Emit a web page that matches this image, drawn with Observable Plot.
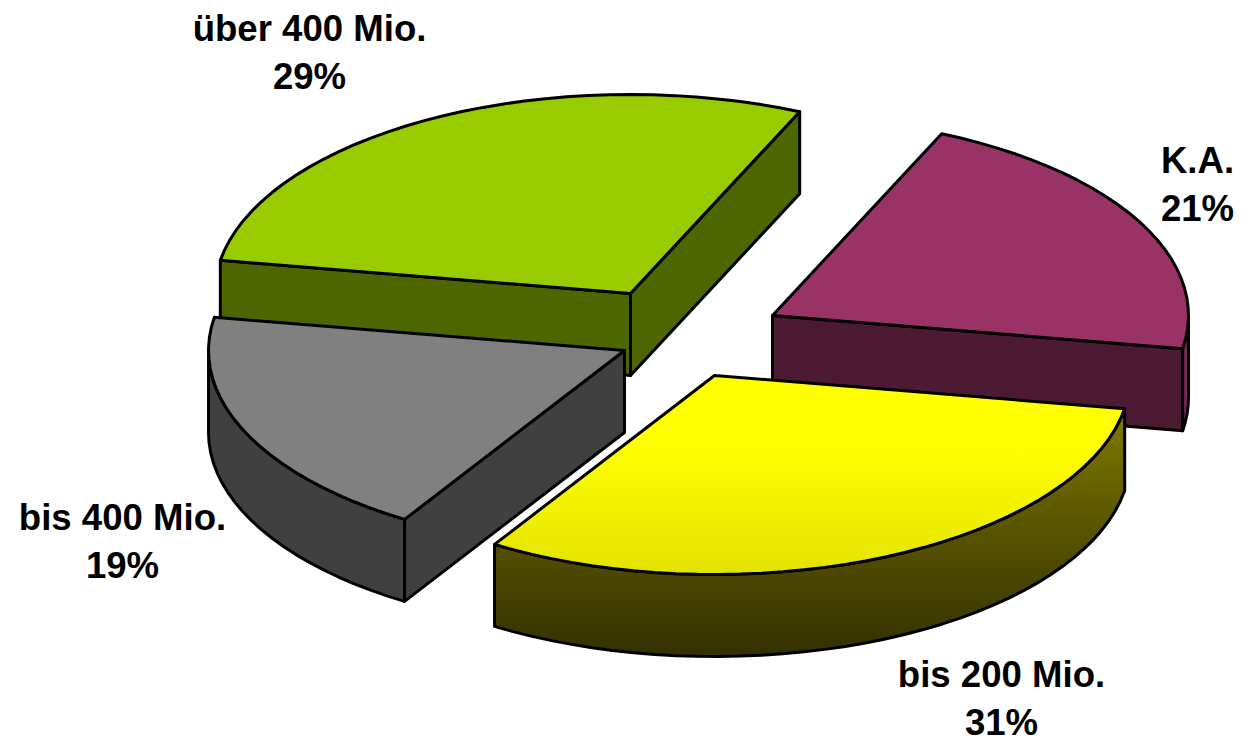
<!DOCTYPE html>
<html>
<head>
<meta charset="utf-8">
<script src="https://cdn.jsdelivr.net/npm/d3@7"></script>
<script src="https://cdn.jsdelivr.net/npm/@observablehq/plot@0.6"></script>
<style>
html,body{margin:0;padding:0;background:#fff;overflow:hidden}
svg{display:block}
</style>
</head>
<body>
<div id="chart"></div>
<script>
// Data
const categories = ["K.A.", "bis 200 Mio.", "bis 400 Mio.", "über 400 Mio."];
const shares = [21, 31.2, 18.8, 29];

// Appearance and layout of the exploded 3D pie
const topFills = ["#993366", "url(#yellowTop)", "#808080", "#99cc00"];
const wallFills = ["#4d1a33", "url(#yellowWall)", "#404040", "#4d6600"];
const rimFills = ["#7a2952", "url(#yellowWall)", "#404040", "#4d6600"];
const apexX = [772, 714, 624, 630];
const apexY = [315, 375, 350, 293];
const labelX = [1197, 1001, 122, 309];
const labelY = [138, 652, 495, 6];
const drawOrder = [3, 0, 2, 1];
const radiusX = 416, radiusY = 199, depth = 82, startAngle = 24;

// Slice angles (clockwise from the top of the ellipse)
const total = d3.sum(shares);
let acc = startAngle;
const angles = shares.map(v => { const a0 = acc; acc += v / total * 360; return [a0, acc]; });

const sinDeg = deg => Math.sin(deg * Math.PI / 180);
const rim = (i, deg, drop = 0) => {
  const r = deg * Math.PI / 180;
  return {x: apexX[i] + radiusX * Math.sin(r), y: apexY[i] - radiusY * Math.cos(r) + drop};
};
const arc = (i, a0, a1, drop = 0) => {
  const n = Math.max(2, Math.ceil((a1 - a0) / 3));
  return d3.range(n + 1).map(k => rim(i, a0 + (a1 - a0) * k / n, drop));
};
const apex = (i, drop = 0) => ({x: apexX[i], y: apexY[i] + drop});

const face = (points, fill) => Plot.line(points, {
  x: "x", y: "y", fill, stroke: "#000", strokeWidth: 3,
  strokeLinejoin: "round", curve: "linear-closed"
});

const sliceMarks = drawOrder.flatMap(i => {
  const [a0, a1] = angles[i];
  const marks = [];
  // cut faces, only those that face the viewer
  if (sinDeg(a0) < 0) marks.push(face([apex(i), rim(i, a0), rim(i, a0, depth), apex(i, depth)], wallFills[i]));
  if (sinDeg(a1) > 0) marks.push(face([apex(i), rim(i, a1), rim(i, a1, depth), apex(i, depth)], wallFills[i]));
  // outer wall: only the part that faces the viewer (90°..270°)
  const f0 = Math.max(a0, 90), f1 = Math.min(a1, 270);
  if (f1 > f0) {
    marks.push(face([...arc(i, f0, f1), ...arc(i, f0, f1, depth).reverse()], rimFills[i]));
  }
  // top
  marks.push(face([apex(i), ...arc(i, a0, a1)], topFills[i]));
  return marks;
});

const gradient = (id, stops) => {
  const g = d3.create("svg:linearGradient").attr("id", id)
    .attr("x1", 0).attr("y1", 0).attr("x2", 0).attr("y2", 1);
  stops.forEach(([o, c]) => g.append("stop").attr("offset", o).attr("stop-color", c));
  return g.node();
};
const defs = () => {
  const d = d3.create("svg:defs");
  d.node().append(
    gradient("yellowTop", [[0, "#ffff00"], [0.35, "#ffff00"], [1, "#e3e300"]]),
    gradient("yellowWall", [[0, "#807a00"], [0.45, "#5c5600"], [1, "#333000"]])
  );
  return d.node();
};

const labels = categories.map((c, i) => ({
  text: `${c}\n${Math.round(shares[i])}%`, x: labelX[i], y: labelY[i]
}));

const chart = Plot.plot({
  width: 1243,
  height: 739,
  margin: 0,
  x: {domain: [0, 1243], range: [0, 1243], axis: null},
  y: {domain: [0, 739], range: [0, 739], axis: null},
  style: {background: "#fff"},
  marks: [
    defs,
    ...sliceMarks,
    Plot.text(labels, {
      x: "x", y: "y", text: "text", lineAnchor: "top", lineHeight: 1.32,
      textAnchor: "middle", fontFamily: "Liberation Sans, Arial, sans-serif",
      fontWeight: "bold", fontSize: 36.6, fill: "#000"
    })
  ]
});
document.getElementById("chart").append(chart);
</script>
</body>
</html>
